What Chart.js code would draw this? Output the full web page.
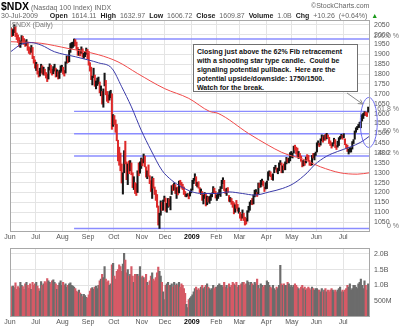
<!DOCTYPE html>
<html>
<head>
<meta charset="utf-8">
<script src="https://cdn.jsdelivr.net/npm/chart.js@4.4.1/dist/chart.umd.min.js"></script>
<style>
  body { margin: 0; width: 400px; height: 329px; background: #fff; position: relative; overflow: hidden;
         font-family: "Liberation Sans", Arial, sans-serif; }
  canvas { position: absolute; left: 0; }
  #price { top: 0; }
  #vol { top: 240px; }
  .t { position: absolute; white-space: nowrap; color: #666; font-size: 7px; line-height: 8px; }
  .t b { color: #222; }
  #h1 { left: 1px; top: 1px; line-height: 11px; }
  #h1 b { font-size: 10.5px; color: #000; }
  #h2 { left: 1px; top: 12px; word-spacing: 2px; }
  #sc { left: 311px; top: 2px; }
  #daily { left: 12px; top: 21px; color: #777; }
  #note { position: absolute; left: 193px; top: 44px; width: 158px; height: 42px; padding: 2px 2px 2px 3px;
          border: 1px solid #707070; background: #fff; font-size: 7px; font-weight: bold; line-height: 9px;
          color: #111; white-space: nowrap; z-index: 2; }
</style>
</head>
<body>
<canvas id="price" width="400" height="242"></canvas>
<canvas id="vol" width="400" height="89"></canvas>
<div class="t" id="h1"><b>$NDX</b> (Nasdaq 100 Index) INDX</div>
<div class="t" id="sc">&copy;StockCharts.com</div>
<div class="t" id="h2">30-Jul-2009&nbsp;&nbsp; <b>Open</b> 1614.11 <b>High</b> 1632.97 <b>Low</b> 1606.72 <b>Close</b> 1609.87 <b>Volume</b> 1.0B <b>Chg</b> +10.26 (+0.64%) <span style="color:#1a9a1a">&#9650;</span></div>
<div class="t" id="daily">$NDX (Daily)</div>
<div id="note">Closing just above the 62% Fib retracement<br>with a shooting star type candle.&nbsp; Could be<br>signaling potential pullback.&nbsp; Here are the<br>potential upside/downside: 1750/1500.<br>Watch for the break.</div>
<script>
// months shown on the x axis and trading days in each
var monthNames = ['Jun', 'Jul', 'Aug', 'Sep', 'Oct', 'Nov', 'Dec', '2009', 'Feb', 'Mar', 'Apr', 'May', 'Jun', 'Jul'];
var monthDays = [21, 22, 21, 21, 23, 19, 22, 20, 19, 22, 21, 20, 22, 21];

// daily closes, highs, lows (Jun 2008 - 30 Jul 2009)
var closes = [
  2020, 2005, 2015, 2040, 1995, 1990, 1975, 1945, 1955, 1985, 1975, 1960, 1950, 1965, 1925, 1920, 1915, 1935, 1880, 1865, 1840,
  1845, 1805, 1795, 1815, 1845, 1805, 1820, 1800, 1785, 1780, 1830, 1840, 1812, 1808, 1820, 1835, 1790, 1810, 1780, 1815, 1830, 1832,
  1815, 1800, 1860, 1885, 1865, 1915, 1940, 1945, 1955, 1965, 1955, 1935, 1905, 1915, 1905, 1930, 1890, 1895, 1905, 1925, 1880,
  1850, 1830, 1775, 1780, 1790, 1740, 1755, 1770, 1775, 1710, 1720, 1650, 1720, 1770, 1700, 1670, 1665, 1700, 1710, 1530, 1590,
  1575, 1510, 1470, 1420, 1340, 1330, 1250, 1265, 1410, 1355, 1270, 1340, 1320, 1350, 1295, 1250, 1265, 1220, 1195, 1305, 1300, 1345, 1360,
  1355, 1390, 1335, 1285, 1305, 1290, 1265, 1210, 1275, 1230, 1200, 1195, 1130, 1040, 1085, 1140, 1125, 1160, 1180,
  1110, 1140, 1165, 1140, 1175, 1230, 1220, 1235, 1200, 1220, 1200, 1255, 1245, 1230, 1225, 1195, 1185, 1185, 1190, 1180, 1200, 1212,
  1260, 1265, 1285, 1240, 1250, 1225, 1205, 1210, 1165, 1180, 1190, 1135, 1180, 1165, 1170, 1175, 1190, 1225, 1205, 1175,
  1180, 1195, 1195, 1225, 1260, 1265, 1215, 1210, 1220, 1205, 1160, 1165, 1145, 1140, 1095, 1135, 1130, 1110, 1110,
  1075, 1065, 1100, 1060, 1055, 1045, 1105, 1115, 1150, 1155, 1145, 1185, 1200, 1200, 1185, 1245, 1230, 1235, 1265, 1240, 1215, 1237,
  1255, 1290, 1305, 1300, 1270, 1290, 1325, 1330, 1310, 1315, 1345, 1355, 1305, 1330, 1325, 1350, 1370, 1365, 1365, 1385, 1385,
  1395, 1432, 1425, 1420, 1390, 1392, 1390, 1365, 1332, 1350, 1345, 1378, 1376, 1370, 1345, 1342, 1385, 1378, 1392, 1400,
  1450, 1455, 1440, 1470, 1477, 1475, 1482, 1475, 1488, 1487, 1455, 1445, 1440, 1447, 1472, 1430, 1425, 1442, 1474, 1480, 1486, 1477,
  1483, 1445, 1440, 1410, 1412, 1415, 1417, 1455, 1462, 1510, 1527, 1532, 1540, 1546, 1551, 1590, 1600, 1605, 1603, 1599, 1610
];
var highs = [
  2035, 2030, 2025, 2050, 2040, 2008, 1998, 1985, 1968, 1995, 1992, 1980, 1968, 1975, 1962, 1938, 1932, 1945, 1935, 1890, 1872,
  1860, 1850, 1815, 1830, 1850, 1842, 1835, 1825, 1808, 1800, 1835, 1852, 1845, 1825, 1838, 1850, 1830, 1822, 1812, 1820, 1842, 1845,
  1835, 1818, 1862, 1892, 1888, 1920, 1955, 1960, 1962, 1978, 1975, 1962, 1935, 1925, 1922, 1938, 1928, 1905, 1912, 1932, 1925,
  1915, 1858, 1835, 1790, 1830, 1795, 1765, 1780, 1785, 1760, 1740, 1712, 1725, 1805, 1768, 1712, 1695, 1712, 1718, 1700, 1595,
  1590, 1568, 1545, 1465, 1430, 1400, 1345, 1300, 1412, 1460, 1355, 1345, 1360, 1362, 1350, 1300, 1280, 1250, 1245, 1310, 1350, 1355, 1375,
  1370, 1395, 1385, 1330, 1310, 1340, 1285, 1260, 1280, 1272, 1228, 1212, 1190, 1132, 1095, 1158, 1150, 1162, 1182,
  1172, 1145, 1170, 1168, 1180, 1235, 1240, 1248, 1240, 1225, 1228, 1258, 1262, 1252, 1242, 1228, 1205, 1192, 1195, 1192, 1205, 1218,
  1262, 1272, 1295, 1280, 1252, 1255, 1225, 1218, 1205, 1188, 1200, 1192, 1182, 1178, 1180, 1190, 1198, 1230, 1222, 1205,
  1188, 1198, 1215, 1230, 1262, 1275, 1262, 1218, 1222, 1225, 1185, 1175, 1170, 1155, 1148, 1138, 1160, 1140, 1122,
  1100, 1090, 1112, 1095, 1075, 1068, 1108, 1130, 1152, 1160, 1170, 1188, 1212, 1215, 1200, 1248, 1248, 1262, 1268, 1258, 1228, 1250,
  1258, 1305, 1310, 1305, 1290, 1295, 1328, 1338, 1325, 1322, 1350, 1362, 1350, 1335, 1345, 1355, 1378, 1372, 1375, 1402, 1408,
  1400, 1435, 1440, 1430, 1425, 1408, 1398, 1385, 1362, 1362, 1358, 1380, 1392, 1388, 1362, 1352, 1388, 1398, 1398, 1405,
  1452, 1462, 1450, 1472, 1492, 1482, 1490, 1495, 1500, 1492, 1480, 1462, 1452, 1452, 1475, 1468, 1438, 1460, 1478, 1485, 1495, 1490,
  1498, 1472, 1445, 1440, 1420, 1428, 1425, 1458, 1468, 1512, 1528, 1535, 1545, 1556, 1560, 1595, 1602, 1610, 1608, 1605, 1633
];
var lows = [
  1998, 1990, 1995, 2010, 1990, 1975, 1960, 1940, 1935, 1952, 1965, 1950, 1940, 1945, 1920, 1905, 1900, 1910, 1878, 1855, 1830,
  1818, 1800, 1785, 1790, 1808, 1800, 1795, 1795, 1780, 1762, 1775, 1820, 1805, 1795, 1802, 1815, 1785, 1788, 1775, 1778, 1808, 1815,
  1800, 1790, 1805, 1855, 1858, 1862, 1910, 1930, 1935, 1942, 1945, 1925, 1895, 1895, 1892, 1905, 1885, 1880, 1888, 1900, 1878,
  1845, 1815, 1772, 1745, 1782, 1738, 1725, 1742, 1750, 1705, 1690, 1648, 1632, 1740, 1695, 1662, 1655, 1668, 1680, 1520, 1535,
  1545, 1505, 1462, 1360, 1338, 1310, 1248, 1192, 1300, 1345, 1265, 1240, 1295, 1310, 1290, 1225, 1215, 1195, 1185, 1200, 1285, 1298, 1322,
  1335, 1350, 1330, 1278, 1270, 1282, 1245, 1205, 1170, 1222, 1190, 1160, 1125, 1035, 1018, 1085, 1110, 1110, 1155,
  1105, 1100, 1125, 1130, 1112, 1190, 1210, 1212, 1195, 1170, 1188, 1198, 1238, 1222, 1215, 1190, 1180, 1178, 1182, 1168, 1182, 1198,
  1212, 1245, 1262, 1235, 1228, 1222, 1200, 1190, 1160, 1142, 1170, 1132, 1138, 1152, 1145, 1160, 1178, 1195, 1200, 1172,
  1160, 1170, 1188, 1180, 1220, 1245, 1210, 1195, 1185, 1200, 1155, 1152, 1140, 1125, 1092, 1100, 1120, 1105, 1095,
  1070, 1058, 1070, 1058, 1035, 1040, 1055, 1100, 1110, 1140, 1138, 1142, 1178, 1190, 1180, 1192, 1225, 1228, 1240, 1232, 1205, 1218,
  1220, 1262, 1285, 1280, 1265, 1262, 1300, 1318, 1302, 1295, 1310, 1340, 1300, 1300, 1315, 1315, 1345, 1352, 1350, 1360, 1378,
  1375, 1400, 1415, 1395, 1382, 1372, 1375, 1358, 1330, 1335, 1338, 1350, 1368, 1360, 1338, 1336, 1340, 1375, 1365, 1388,
  1405, 1440, 1432, 1440, 1462, 1455, 1465, 1465, 1472, 1478, 1448, 1438, 1425, 1435, 1448, 1428, 1418, 1430, 1438, 1470, 1475, 1470,
  1478, 1442, 1425, 1408, 1395, 1405, 1405, 1420, 1448, 1470, 1505, 1518, 1528, 1530, 1528, 1562, 1575, 1590, 1590, 1585, 1607
];
// daily volume, millions of shares
var volumes = [
  920, 960, 980, 930, 1080, 880, 960, 920, 1100, 1000, 960, 880, 1050, 1100, 1000, 920, 1050, 880, 1100, 1000, 1050,
  1100, 980, 900, 820, 1120, 1000, 1050, 1120, 1080, 1220, 1150, 1100, 1050, 1150, 1180, 1100, 1050, 880, 1000, 1080, 1150, 1000,
  1100, 1000, 1050, 950, 1000, 1050, 1080, 1000, 980, 950, 900, 820, 780, 850, 760, 720, 650, 720, 680, 620, 600,
  700, 820, 900, 930, 880, 950, 980, 900, 1000, 1150, 1200, 1350, 1250, 1600, 1200, 1100, 1150, 1000, 1050, 1650, 1700,
  1300, 1200, 1450, 1500, 1650, 1600, 1450, 1680, 2020, 1800, 1400, 1500, 1300, 1350, 1600, 1300, 1100, 1350, 1350, 1350, 1300, 1600, 1250,
  1300, 1250, 1200, 1350, 1100, 1000, 1150, 1300, 1400, 1200, 1150, 1250, 1400, 1580, 1450, 1300, 1100, 800, 550,
  1000, 1050, 1100, 1000, 1000, 1050, 950, 1100, 1000, 1050, 1000, 1100, 950, 1050, 1000, 900, 750, 400, 300, 550, 600, 650,
  700, 800, 900, 950, 850, 900, 850, 950, 1000, 900, 950, 1000, 1050, 950, 900, 850, 900, 1000, 900, 950,
  950, 1000, 1050, 1000, 1000, 950, 1100, 950, 1000, 900, 1050, 950, 1000, 1100, 1050, 1000, 1100, 950, 1000,
  1000, 1050, 1100, 1100, 1000, 1050, 1150, 1100, 1000, 1100, 1050, 1000, 1100, 1050, 1200, 1000, 900, 1050, 1000, 950, 1000, 1000,
  1150, 1100, 1000, 950, 900, 1000, 900, 850, 950, 900, 1000, 1640, 1050, 1000, 1050, 1000, 1000, 1100, 1050, 950, 1000,
  950, 1000, 1050, 1000, 950, 900, 850, 950, 1000, 900, 950, 850, 900, 950, 900, 850, 950, 900, 850, 900,
  900, 850, 850, 800, 900, 800, 850, 900, 800, 850, 800, 850, 900, 850, 800, 850, 800, 850, 900, 950, 800, 850,
  800, 850, 900, 1000, 950, 1050, 850, 900, 1000, 1000, 950, 900, 1050, 1100, 1200, 1000, 900, 1150, 1000, 850, 1050
];

// moving averages: day index / value
var ma50Idx = [0, 9, 17, 25, 36, 53, 64, 72, 83, 91, 99, 107, 115, 124, 132, 140, 149, 157, 168, 179, 190, 200, 212, 223, 232, 243, 249, 259, 268, 278, 287, 294];
var ma50Val = [1913, 1952, 1959, 1947, 1913, 1888, 1871, 1857, 1829, 1736, 1634, 1516, 1415, 1313, 1262, 1229, 1203, 1195, 1195, 1203, 1195, 1187, 1203, 1221, 1246, 1300, 1340, 1384, 1408, 1430, 1455, 1485];
var ma200Idx = [0, 14, 25, 47, 72, 88, 104, 126, 146, 163, 170, 195, 211, 222, 231, 237, 254, 270, 284, 294];
var ma200Val = [1964, 1961, 1956, 1930, 1898, 1862, 1803, 1727, 1677, 1611, 1601, 1499, 1440, 1404, 1384, 1375, 1330, 1300, 1293, 1300];

// Fibonacci retracement of the Aug 2008 high to Nov 2008 low
var fibLow = 1018, fibHigh = 1978, fibStartIdx = 52;
var fibPcts = [0, 38.2, 50, 61.8, 100];
var fibLabels = ['0 %', '38.2 %', '50 %', '61.8 %', '100.0 %'];

var priceTicks = [1050, 1100, 1150, 1200, 1250, 1300, 1350, 1400, 1450, 1500, 1550, 1600, 1650, 1700, 1750, 1800, 1850, 1900, 1950, 2000, 2050];
var volTicks = [500, 1000, 1500, 2000];
var volTickLabels = ['500M', '1.0B', '1.5B', '2.0B'];

var ellipseAt = [293.5, 1555];
var arrowTip = [288.5, 1648];

if (highs.length !== closes.length || lows.length !== closes.length || volumes.length !== closes.length)
  throw new Error('length mismatch ' + closes.length + ' ' + highs.length + ' ' + lows.length + ' ' + volumes.length);

var FONT = '"Liberation Sans", Arial, sans-serif';
var X_MIN = -0.5, X_MAX = 294.5;
var monthStart = [];
monthDays.reduce(function (acc, d) { monthStart.push(acc); return acc + d; }, 0);

var upDown = closes.map(function (c, i) { return i > 0 && c < closes[i - 1] ? 'down' : 'up'; });

function xAxis(height) {
  return {
    type: 'linear', min: X_MIN, max: X_MAX, offset: false,
    afterBuildTicks: function (s) { s.ticks = monthStart.map(function (v) { return {value: v - 0.5}; }); },
    afterFit: function (s) { s.height = height; },
    grid: {color: '#e4e4e4', drawTicks: false, offset: false},
    border: {display: false},
    ticks: {
      autoSkip: false, maxRotation: 0, padding: 1,
      color: function (c) { return monthNames[c.index] === '2009' ? '#000' : '#555'; },
      font: function (c) { return {family: FONT, size: 7, weight: monthNames[c.index] === '2009' ? 'bold' : 'normal'}; },
      callback: function (v, i) { return monthNames[i]; }
    }
  };
}

function yAxis(min, max, tickList, labelFn) {
  return {
    position: 'right', min: min, max: max,
    afterBuildTicks: function (s) { s.ticks = tickList.map(function (v) { return {value: v}; }); },
    afterFit: function (s) { s.width = 30; },
    grid: {color: '#e4e4e4', drawTicks: false},
    border: {display: false},
    ticks: {padding: 4, autoSkip: false, color: '#555', font: {family: FONT, size: 7}, callback: labelFn}
  };
}

var framePlugin = {
  id: 'frame',
  afterDraw: function (chart) {
    var a = chart.chartArea, c = chart.ctx;
    c.save();
    c.strokeStyle = '#a8a8a8';
    c.lineWidth = 1;
    c.strokeRect(Math.round(a.left) + 0.5, Math.round(a.top) + 0.5, Math.round(a.right - a.left) - 1, Math.round(a.bottom - a.top) - 1);
    c.restore();
  }
};

var markupPlugin = {
  id: 'markup',
  afterDatasetsDraw: function (chart) {
    var c = chart.ctx, xs = chart.scales.x, ys = chart.scales.y;
    c.save();
    // ellipse round the last candles
    c.strokeStyle = '#7070f0';
    c.lineWidth = 1;
    c.beginPath();
    c.ellipse(xs.getPixelForValue(ellipseAt[0]), ys.getPixelForValue(ellipseAt[1]), 8.5, 25, 0, 0, Math.PI * 2);
    c.stroke();
    // arrow from the note
    var x0 = 347, y0 = 93, x1 = xs.getPixelForValue(arrowTip[0]), y1 = ys.getPixelForValue(arrowTip[1]);
    var ang = Math.atan2(y1 - y0, x1 - x0);
    c.strokeStyle = '#888';
    c.beginPath();
    c.moveTo(x0, y0); c.lineTo(x1, y1);
    c.moveTo(x1 - 5 * Math.cos(ang - 0.5), y1 - 5 * Math.sin(ang - 0.5));
    c.lineTo(x1, y1);
    c.lineTo(x1 - 5 * Math.cos(ang + 0.5), y1 - 5 * Math.sin(ang + 0.5));
    c.stroke();
    c.restore();
  },
  afterDraw: function (chart) {
    var c = chart.ctx, ys = chart.scales.y;
    c.save();
    c.font = '7px ' + FONT;
    c.fillStyle = '#777';
    c.textAlign = 'right';
    c.textBaseline = 'bottom';
    fibPcts.forEach(function (p, i) {
      var lvl = fibLow + p / 100 * (fibHigh - fibLow);
      c.fillText(fibLabels[i], 399, ys.getPixelForValue(lvl) + 1);
    });
    c.restore();
  }
};

var fibSets = fibPcts.map(function (p) {
  var lvl = fibLow + p / 100 * (fibHigh - fibLow);
  return {type: 'line', data: [{x: fibStartIdx, y: lvl}, {x: X_MAX, y: lvl}], borderColor: '#8a8cff',
          borderWidth: 1.4, pointRadius: 0, order: 5};
});

new Chart(document.getElementById('price'), {
  type: 'bar',
  data: {
    datasets: [
      {type: 'line', data: ma50Idx.map(function (x, i) { return {x: x, y: ma50Val[i]}; }), borderColor: '#3a3aa8',
       borderWidth: 1, pointRadius: 0, cubicInterpolationMode: 'monotone', order: 0},
      {type: 'line', data: ma200Idx.map(function (x, i) { return {x: x, y: ma200Val[i]}; }), borderColor: '#f04a4a',
       borderWidth: 1, pointRadius: 0, cubicInterpolationMode: 'monotone', order: 0},
      {type: 'bar', data: closes.map(function (c, i) { return {x: i, y: [lows[i], highs[i]]}; }),
       backgroundColor: upDown.map(function (d) { return d === 'down' ? '#dd2a2a' : '#151515'; }),
       barThickness: 1.4, grouped: false, order: 1}
    ].concat(fibSets)
  },
  options: {
    responsive: false, animation: false, events: [],
    layout: {padding: {left: 10, top: 20, right: 0, bottom: 0}},
    plugins: {legend: {display: false}, tooltip: {enabled: false}},
    scales: {
      x: xAxis(10),
      y: yAxis(1000, 2074, priceTicks, function (v) { return String(v); })
    }
  },
  plugins: [framePlugin, markupPlugin]
});

new Chart(document.getElementById('vol'), {
  type: 'bar',
  data: {
    datasets: [{
      data: volumes.map(function (v, i) { return {x: i, y: v}; }),
      backgroundColor: upDown.map(function (d) { return d === 'down' ? '#d65a66' : '#6c6c6c'; }),
      barThickness: 1.5
    }]
  },
  options: {
    responsive: false, animation: false, events: [],
    layout: {padding: {left: 10, top: 1, right: 0, bottom: 0}},
    plugins: {legend: {display: false}, tooltip: {enabled: false}},
    scales: {
      x: xAxis(12),
      y: yAxis(0, 2180, volTicks, function (v, i) { return volTickLabels[i]; })
    }
  },
  plugins: [framePlugin]
});
</script>
</body>
</html>
